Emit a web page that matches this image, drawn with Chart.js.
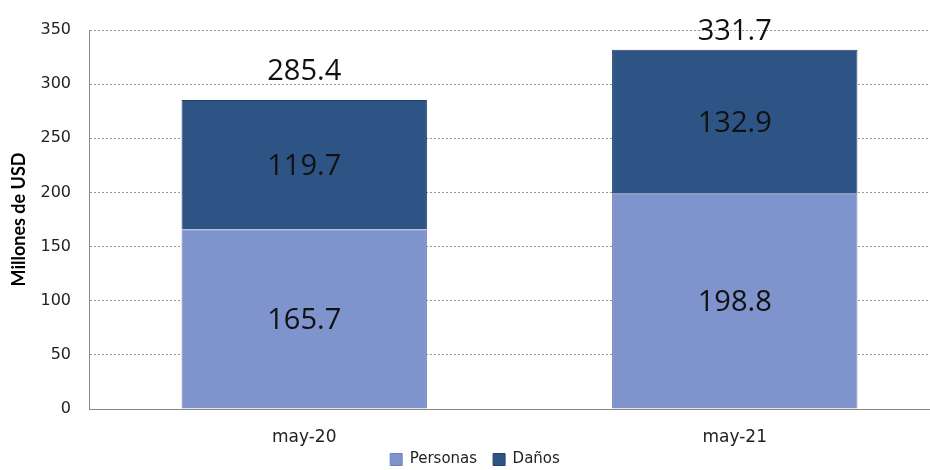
<!DOCTYPE html>
<html>
<head>
<meta charset="utf-8">
<script src="https://cdn.jsdelivr.net/npm/chart.js@4"></script>
<style>
  html, body { margin: 0; padding: 0; overflow: hidden; background: #fff; }
  #wrap { width: 950px; height: 470px; }
</style>
</head>
<body>
<div id="wrap"><canvas id="chart"></canvas></div>
<script>
const categories = ['may-20', 'may-21'];
const personas = [165.7, 198.8];
const danos = [119.7, 132.9];
const totals = [285.4, 331.7];

const COLORS = {
  personas: '#7f94cc',
  danos: '#2e5485',
};

// labels inside each segment and the total over the stack
const valueLabels = {
  id: 'valueLabels',
  afterDatasetsDraw(chart) {
    const ctx = chart.ctx;
    ctx.save();
    ctx.fillStyle = '#111';
    ctx.font = '29px "Open Sans", sans-serif';
    ctx.textAlign = 'center';
    ctx.textBaseline = 'middle';
    chart.data.datasets.forEach((ds, i) => {
      chart.getDatasetMeta(i).data.forEach((el, j) => {
        ctx.fillText(ds.data[j].toFixed(1), el.x, (el.y + el.base) / 2 + 2);
      });
    });
    const top = chart.getDatasetMeta(chart.data.datasets.length - 1).data;
    top.forEach((el, j) => {
      // the total can't go above the plot's top edge
      const y = Math.max(el.y - 28, chart.chartArea.top + 2);
      ctx.fillText(totals[j].toFixed(1), el.x, y);
    });
    ctx.restore();
  }
};

// keep the legend strip short so the plot can reach down like the original,
// then pull its row up a bit (item padding is also the gap between entries)
const legendHeight = {
  id: 'legendHeight',
  afterInit(chart) {
    const lg = chart.legend;
    const fit = lg.fit.bind(lg);
    lg.fit = function () { fit(); this.height = 23; };
  },
  afterLayout(chart) {
    chart.legend.top -= 11;
    chart.legend.bottom = chart.height;
  }
};

new Chart(document.getElementById('chart'), {
  type: 'bar',
  data: {
    labels: categories,
    datasets: [
      { label: 'Personas', data: personas, backgroundColor: COLORS.personas, borderColor: '#6f82b8', borderWidth: 1 },
      { label: 'Daños', data: danos, backgroundColor: COLORS.danos, borderColor: '#24436c', borderWidth: 1 },
    ],
  },
  options: {
    responsive: true,
    maintainAspectRatio: false,
    animation: false,
    categoryPercentage: 0.57,
    barPercentage: 1,
    layout: { padding: { top: 30, right: 0, bottom: 0 } },
    plugins: {
      legend: {
        position: 'bottom',
        labels: {
          boxWidth: 12,
          boxHeight: 12,
          padding: 16,
          color: '#222',
          font: { size: 15, family: '"DejaVu Sans", sans-serif' },
        },
      },
      tooltip: { enabled: false },
    },
    scales: {
      x: {
        stacked: true,
        grid: { display: false },
        border: { color: '#888' },
        ticks: { color: '#222', font: { size: 17, family: '"DejaVu Sans", sans-serif' }, padding: 10 },
        afterFit: s => { s.height = 38; },
      },
      y: {
        stacked: true,
        min: 0,
        max: 350,
        ticks: { stepSize: 50, color: '#222', font: { size: 16, family: '"DejaVu Sans", sans-serif' }, padding: 18 },
        grid: {
          color: ctx => ctx.tick.value === 0 ? 'rgba(0,0,0,0)' : '#999',
          tickLength: 0,
        },
        border: { color: '#888', dash: [2, 2] },
        title: {
          display: true,
          text: 'Millones de USD',
          color: '#000',
          font: { size: 18, weight: 'bold', family: 'Lato, sans-serif' },
          padding: { top: 8, bottom: 0 },
        },
        afterFit: s => { s.width = 89; },
      },
    },
  },
  plugins: [valueLabels, legendHeight],
});
</script>
</body>
</html>
